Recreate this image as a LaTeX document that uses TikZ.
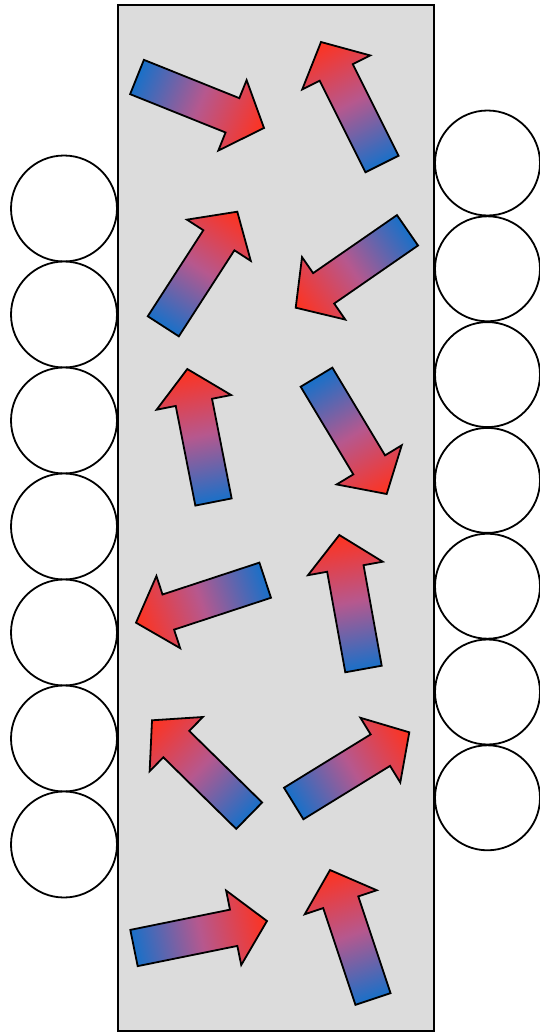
\documentclass[tikz,border=0pt]{standalone}
\definecolor{tailblue}{RGB}{25,112,200}
\definecolor{midpink}{RGB}{182,88,142}
\definecolor{tipred}{RGB}{255,50,30}
\definecolor{boxgray}{RGB}{220,220,220}
\tikzset{
  garrowstyle/.style={draw=black,line width=1.8pt,line join=miter,left color=tailblue,right color=tipred,middle color=midpink},
  boxstyle/.style={draw=black,line width=1.5pt,fill=boxgray},
  ballstyle/.style={draw=black,line width=1.8pt,fill=white}
}
\newcommand\garrow[4]{%
  \pgfmathsetmacro\gadx{#3-#1}%
  \pgfmathsetmacro\gady{#4-#2}%
  \pgfmathsetmacro\galen{veclen(\gadx,\gady)}%
  \pgfmathsetmacro\gaang{atan2(-\gady,\gadx)}%
  \pgfmathsetmacro\ganeck{\galen-34}%
  \begin{scope}[transform canvas={shift={(#1,#2)},rotate=\gaang}]
    \draw[garrowstyle] (0,-18.5) -- (\ganeck,-18.5) -- (\ganeck,-38) -- (\galen,0)
      -- (\ganeck,38) -- (\ganeck,18.5) -- (0,18.5) -- cycle;
  \end{scope}}
\begin{document}
\begin{tikzpicture}[x=1pt,y=-1pt]
\useasboundingbox (0,0) rectangle (540,1033);
\draw[boxstyle] (118,5) rectangle (434,1031);
\foreach \k in {0,...,6}{
  \draw[ballstyle] (64,{208.5+106*\k}) circle (53);
  \draw[ballstyle] (487.5,{163+105.8*\k}) circle (52.5);
}
\garrow{137}{77}{264}{128}
\garrow{382}{164}{321}{42}
\garrow{163.3}{326.3}{237.3}{211.7}
\garrow{407.5}{230.3}{295.7}{307.7}
\garrow{213.5}{502}{187.3}{369}
\garrow{316.5}{377.2}{386.7}{494}
\garrow{265.2}{580.2}{136}{622.7}
\garrow{363.5}{669}{339.3}{535}
\garrow{249.2}{815.7}{151.7}{720}
\garrow{293.7}{803.5}{409.3}{732.3}
\garrow{134}{948}{267}{921}
\garrow{373}{999}{330}{870}
\end{tikzpicture}
\end{document}
